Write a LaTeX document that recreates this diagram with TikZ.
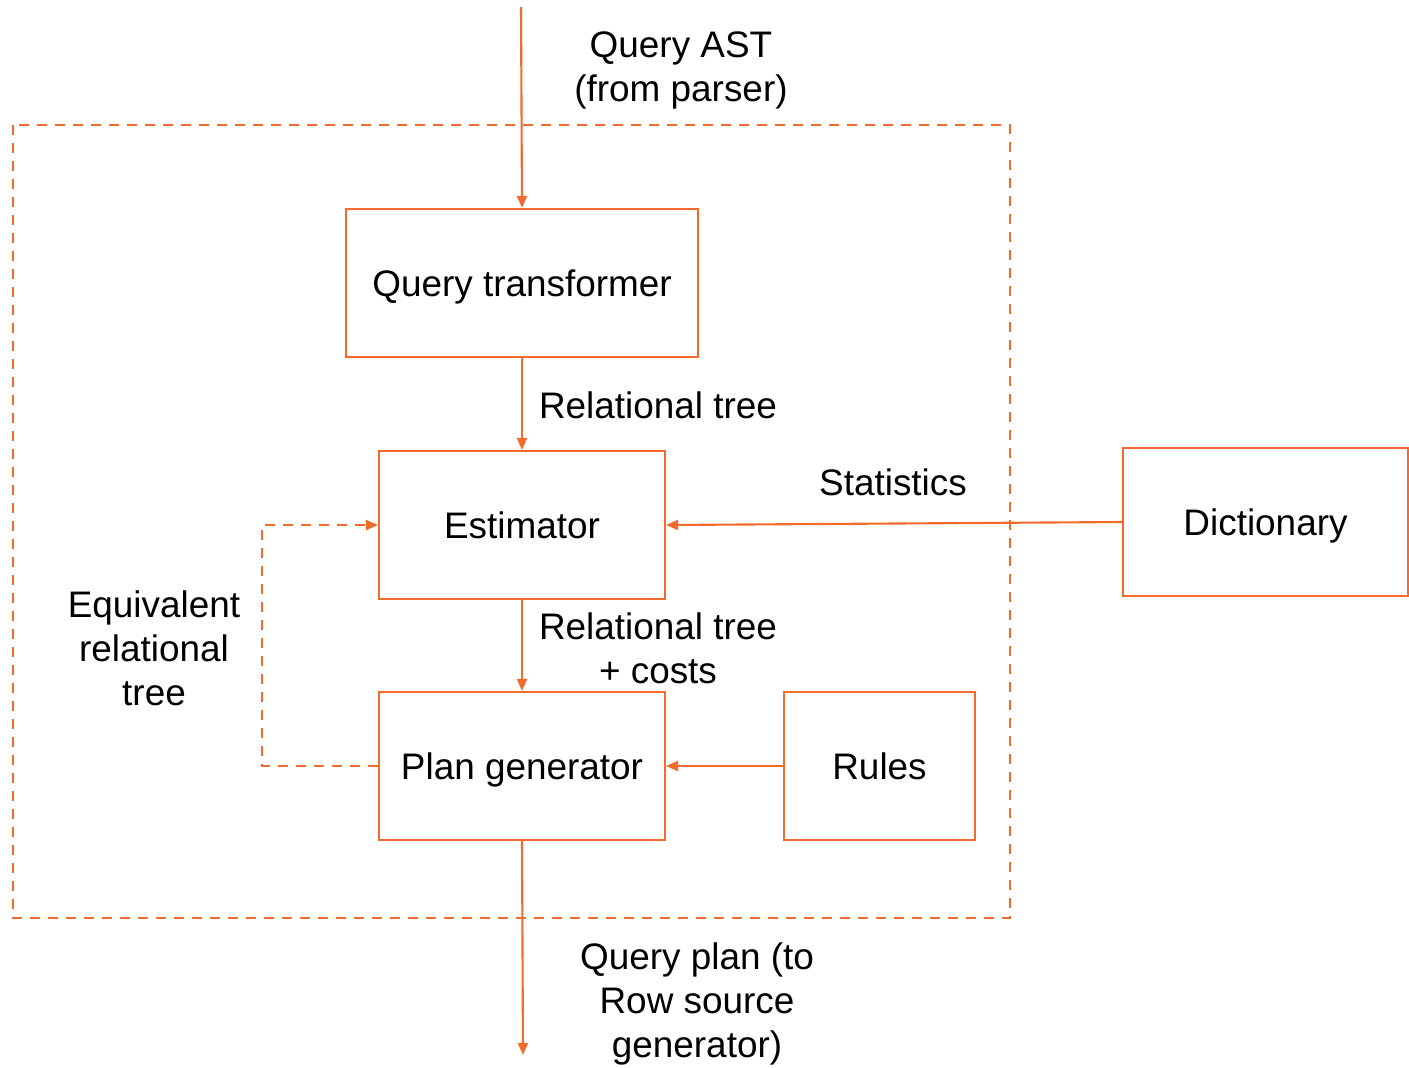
\documentclass[tikz,border=0pt]{standalone}
\usepackage{fontspec}
\setmainfont{Liberation Sans}
\usetikzlibrary{arrows.meta}
\definecolor{qorange}{HTML}{F26A2C}

\begin{document}
\begin{tikzpicture}[>={Triangle[width=1mm,length=1.2mm]},
  every node/.style={align=center, font=\fontsize{10.5}{12.5}\selectfont},
  box/.style={draw=qorange, line width=0.6pt, rectangle, minimum width=2.86cm, minimum height=1.48cm, text height=3.5mm, text depth=0.9mm},
  link/.style={draw=qorange, line width=0.6pt, ->},
  fb/.style={draw=qorange, line width=0.6pt, dash pattern=on 0.1cm off 0.08cm}]

\useasboundingbox (0,0) rectangle (14.09,-10.67);

% Optimizer frame
\draw[fb] (0.13,-1.25) rectangle (10.10,-9.18);

% Nodes
\node[box, minimum width=3.52cm] (transformer) at (5.22,-2.83) {Query transformer};
\node[box] (estimator) at (5.22,-5.25) {Estimator};
\node[box] (plangen) at (5.22,-7.66) {Plan generator};
\node[box, minimum width=1.91cm] (rules) at (8.795,-7.66) {Rules};
\node[box, minimum width=2.85cm] (dictionary) at (12.655,-5.22) {Dictionary};

\coordinate (ast) at (5.21,-0.07);
\coordinate (plan) at (5.23,-10.55);

% Edges
\draw[link] (ast) -- (transformer.north);
\draw[link] (transformer.south) -- (estimator.north);
\draw[link] (estimator.south) -- (plangen.north);
\draw[link] (dictionary.west) -- (estimator.east);
\draw[link] (rules.west) -- (plangen.east);
\draw[link] (plangen.south) -- (plan);
\draw[fb, ->] (plangen.west) -- ++(-1.16,0) |- (estimator.west);

% Labels
\node (astlabel) at (6.81,-0.70) {Query AST\\(from parser)};
\node (reltree) at (6.58,-4.05) {Relational tree};
\node (stats) at (8.93,-4.82) {Statistics};
\node (costs) at (6.58,-6.48) {Relational tree\\+ costs};
\node (equiv) at (1.54,-6.48) {Equivalent\\relational\\tree};
\node (planlabel) at (6.97,-10.04) {Query plan (to\\Row source\\generator)};

\end{tikzpicture}
\end{document}
